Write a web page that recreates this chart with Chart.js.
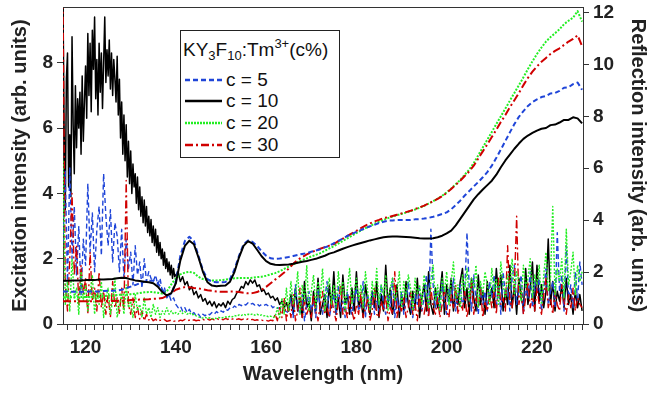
<!DOCTYPE html>
<html><head><meta charset="utf-8">
<script src="https://cdn.jsdelivr.net/npm/chart.js@4.4.1/dist/chart.umd.min.js"></script>
<style>
html,body{margin:0;padding:0;background:#fff;}
#wrap{position:relative;width:648px;height:393px;overflow:hidden;}
#c{position:absolute;left:0;top:0;}
#legend{position:absolute;left:180px;top:30px;width:160px;height:128px;box-sizing:border-box;border:1px solid #222;background:#fff;font-family:"Liberation Sans",Arial,sans-serif;color:#111;}
.lt{position:absolute;left:2px;top:8px;font-size:19px;line-height:22px;white-space:nowrap;}
.lt sub,.lt sup{font-size:13px;line-height:0;}
.lt sub{vertical-align:-4px;}
.lt sup{vertical-align:8px;}
.le{position:absolute;left:0;width:158px;height:22px;font-size:19px;line-height:22px;white-space:nowrap;}
.le svg{position:absolute;left:4px;top:8px;}
.le span{position:absolute;left:45px;top:0;}
</style>
</head><body>
<div id="wrap">
<canvas id="c" width="648" height="393"></canvas>
<div id="legend">
  <div class="lt">KY<sub>3</sub>F<sub>10</sub>:Tm<sup>3+</sup>(c%)</div>
  <div class="le" style="top:38px"><svg width="37" height="6"><line x1="0" y1="3" x2="37" y2="3" stroke="#1f45d8" stroke-width="2.5" stroke-dasharray="5,3"/></svg><span>c = 5</span></div>
  <div class="le" style="top:59px"><svg width="37" height="6"><line x1="0" y1="3" x2="37" y2="3" stroke="#000" stroke-width="2.5"/></svg><span>c = 10</span></div>
  <div class="le" style="top:81px"><svg width="37" height="6"><line x1="0" y1="3" x2="37" y2="3" stroke="#22ee22" stroke-width="2.5" stroke-dasharray="2,1"/></svg><span>c = 20</span></div>
  <div class="le" style="top:103px"><svg width="37" height="6"><line x1="0" y1="3" x2="37" y2="3" stroke="#d00000" stroke-width="2.5" stroke-dasharray="8,3,2,3"/></svg><span>c = 30</span></div>
</div>
</div>
<script>
// ---- sampling grids (nm) ----
const excStart = 115, excStep = 0.5;            // excitation spectra, 115..230 nm
const c10FineStart = 115, c10FineStep = 0.25;   // c = 10 excitation, dense part 115..139.75 nm
const c10Start = 140, c10Step = 0.5;            // c = 10 excitation, 140..230 nm
const refStart = 115, refStep = 1;              // reflection spectra, 115..230 nm

// ---- axis ranges / ticks ----
const xMin = 115, xMax = 230.2, xStep = 2;
const yLeftMax = 9.71, yRightMax = 12.21, yStep = 2;

// ---- excitation intensity (left axis, arb. units) ----
const excC5 = [
  2.5, 4.7, 1.2, 4.8, 2.0, 3.6, 1.5, 3.0, 0.9, 2.6,
  1.8, 4.3, 2.2, 3.4, 1.6, 2.9, 3.6, 2.1, 4.6, 3.3,
  2.4, 3.5, 1.9, 3.1, 2.7, 1.6, 2.9, 1.4, 2.6, 1.7,
  2.2, 1.2, 2.4, 1.5, 1.9, 1.1, 2.0, 1.3, 1.6, 1.4,
  1.3, 1.5, 1.2, 1.4, 1.0, 1.1, 0.8, 0.9, 0.7, 0.8,
  0.6, 0.5, 0.55, 0.4, 0.5, 0.35, 0.45, 0.3, 0.35, 0.25,
  0.3, 0.2, 0.3, 0.25, 0.32, 0.28, 0.35, 0.3, 0.38, 0.33,
  0.4, 0.36, 0.45, 0.42, 0.5, 0.48, 0.55, 0.5, 0.6, 0.56,
  0.62, 0.58, 0.65, 0.6, 0.63, 0.58, 0.62, 0.55, 0.6, 0.57,
  0.6, 0.55, 0.58, 0.5, 0.55, 0.48, 0.5, 0.45, 0.42, 0.38,
  0.35, 0.8, 0.2, 1.2, 0.5, 0.3, 0.9, 0.1, 0.6, 1.0,
  0.4, 0.7, 0.2, 1.1, 0.5, 0.3, 0.8, 1.3, 0.2, 0.6,
  0.9, 0.3, 1.2, 0.4, 0.7, 0.2, 1.0, 0.5, 0.3, 0.8,
  1.1, 0.4, 0.6, 1.3, 0.2, 0.9, 0.5, 1.0, 0.3, 0.7,
  0.4, 1.2, 0.6, 0.3, 0.9, 0.5, 1.4, 0.2, 0.8, 0.4,
  1.0, 0.3, 0.7, 1.3, 0.5, 0.2, 0.9, 0.6, 1.1, 0.4,
  0.8, 1.5, 0.3, 2.9, 1.2, 0.5, 1.0, 0.4, 1.3, 0.7,
  0.3, 1.1, 0.6, 1.4, 0.4, 0.9, 1.2, 0.5, 1.0, 2.8,
  1.1, 0.4, 1.5, 0.7, 0.3, 1.2, 0.6, 1.0, 0.4, 1.3,
  0.8, 1.5, 0.5, 1.2, 0.3, 1.6, 0.9, 1.1, 0.4, 1.4,
  1.8, 0.6, 1.0, 1.5, 0.3, 1.2, 0.8, 1.6, 0.5, 1.3,
  0.9, 1.4, 0.4, 1.1, 1.7, 0.6, 1.0, 1.3, 0.5, 2.8,
  1.0, 1.5, 0.4, 2.4, 0.8, 1.2, 0.5, 1.6, 0.7, 1.9,
  1.2
];
const excC10Fine = [
  9.8, 6.0, 3.5, 7.5,   8.3, 4.2, 5.8, 3.9,   8.8, 6.1, 4.6, 7.3,
  5.4, 6.9, 6.0, 7.1,   5.2, 7.6, 5.6, 6.8,   7.9, 6.3, 8.9, 7.0,
  8.6, 6.5, 9.0, 7.8,   9.4, 6.9, 8.1, 6.4,   8.6, 7.1, 8.3, 6.6,
  8.0, 9.4, 7.4, 8.4,   7.6, 8.7, 7.2, 8.3,   7.0, 8.1, 7.5, 6.8,
  8.2, 6.4, 7.5, 5.7,   6.8, 5.2, 6.4, 5.0,   6.1, 4.5, 5.6, 4.3,
  5.3, 4.0, 4.9, 4.2,   4.6, 3.7, 4.5, 3.5,   4.2, 3.3, 3.9, 3.1,
  3.8, 3.0, 3.6, 2.8,   3.3, 2.7, 3.2, 2.5,   3.0, 2.4, 2.9, 2.2,
  2.7, 2.1, 2.5, 2.0,   2.3, 1.8, 2.2, 1.7,   2.0, 1.6, 1.9, 1.5,
  1.8, 1.4, 1.7, 1.45
];
const excC10 = [
  1.5, 1.6, 1.3, 1.45, 1.2, 1.3, 1.05, 1.15, 0.9, 1.0,
  0.8, 0.9, 0.7, 0.78, 0.6, 0.7, 0.55, 0.68, 0.5, 0.62,
  0.55, 0.65, 0.5, 0.7, 0.6, 0.75, 0.8, 0.95, 1.0, 1.15,
  1.1, 1.3, 1.2, 1.35, 1.25, 1.35, 1.15, 1.2, 1.0, 1.05,
  0.9, 0.95, 0.8, 0.85, 0.72, 0.8, 0.6, 0.7, 0.5, 0.65,
  0.4, 0.9, 0.3, 1.1, 0.4, 0.8, 0.2, 1.3, 0.5, 0.7,
  0.1, 1.0, 0.4, 1.4, 0.3, 0.6, 0.9, 0.2, 1.2, 0.5,
  1.6, 0.3, 0.8, 0.2, 1.5, 0.6, 0.9, 0.3, 1.1, 0.4,
  1.6, 0.5, 0.8, 0.2, 1.2, 0.7, 0.3, 1.0, 0.5, 1.3,
  0.2, 0.9, 0.4, 1.8, 0.6, 1.1, 0.3, 0.7, 1.2, 0.2,
  0.9, 0.4, 1.3, 0.6, 0.3, 1.0, 0.5, 1.4, 0.2, 0.8,
  1.2, 0.4, 1.6, 0.6, 0.3, 1.1, 0.5, 0.9, 1.6, 0.3,
  1.2, 0.7, 1.4, 0.4, 1.0, 0.6, 1.3, 1.7, 0.5, 1.1,
  0.3, 1.4, 0.8, 0.4, 1.5, 0.6, 1.0, 0.3, 1.3, 0.7,
  1.1, 0.5, 1.7, 0.9, 1.5, 0.4, 1.0, 0.6, 1.8, 0.5,
  1.2, 0.3, 1.4, 0.8, 0.5, 1.7, 0.6, 1.1, 1.9, 0.4,
  1.8, 0.7, 1.2, 0.5, 1.0, 2.6, 0.6, 1.3, 0.4, 1.0,
  0.7, 1.2, 0.5, 1.4, 0.6, 0.9, 0.3, 1.0, 0.5, 0.9,
  0.4
];
const excC20 = [
  5.0, 0.6, 1.3, 0.4, 2.0, 0.8, 1.1, 0.3, 1.6, 0.7,
  1.2, 0.4, 0.9, 1.5, 0.3, 1.0, 0.6, 1.3, 0.2, 0.8,
  1.1, 0.3, 0.7, 1.4, 0.2, 0.6, 0.9, 0.3, 1.2, 0.5,
  0.7, 0.2, 0.9, 0.4, 0.6, 0.2, 0.8, 0.3, 0.5, 0.2,
  0.6, 0.3, 0.5, 0.2, 0.4, 0.3, 0.5, 0.3, 0.4, 0.3,
  0.35, 0.3, 0.4, 0.32, 0.38, 0.3, 0.35, 0.28, 0.3, 0.25,
  0.22, 0.2, 0.18, 0.2, 0.17, 0.19, 0.16, 0.18, 0.17, 0.2,
  0.18, 0.2, 0.22, 0.2, 0.24, 0.22, 0.26, 0.24, 0.28, 0.26,
  0.3, 0.27, 0.3, 0.28, 0.31, 0.27, 0.3, 0.26, 0.28, 0.25,
  0.26, 0.22, 0.24, 0.2, 0.22, 0.5, 0.2, 0.8, 0.3, 1.1,
  0.4, 1.3, 0.6, 0.9, 1.6, 0.3, 1.2, 0.7, 1.8, 0.4,
  1.0, 1.5, 0.5, 1.3, 0.8, 1.7, 0.4, 1.1, 1.4, 0.6,
  1.2, 0.5, 1.6, 0.9, 1.3, 0.4, 1.1, 1.7, 0.6, 1.0,
  1.4, 0.7, 1.2, 0.5, 1.6, 1.0, 0.4, 1.3, 0.8, 1.7,
  0.6, 1.2, 0.9, 1.5, 0.4, 1.1, 1.4, 0.7, 1.0, 1.6,
  0.5, 1.3, 0.8, 1.5, 1.1, 0.4, 1.4, 0.9, 1.2, 0.6,
  1.5, 1.0, 0.5, 1.3, 1.8, 0.7, 1.2, 0.4, 1.4, 1.0,
  1.6, 0.6, 1.3, 1.9, 0.8, 1.2, 0.5, 1.5, 1.0, 1.7,
  0.7, 1.4, 1.1, 1.8, 0.5, 1.3, 0.9, 1.6, 1.2, 0.6,
  1.7, 1.0, 1.4, 0.6, 1.9, 1.2, 0.8, 1.5, 1.1, 2.0,
  0.9, 1.6, 1.3, 0.7, 1.8, 1.1, 1.4, 2.0, 0.8, 1.5,
  1.2, 1.8, 0.6, 1.5, 2.2, 1.0, 1.4, 3.6, 0.9, 1.7,
  1.3, 2.0, 0.8, 2.9, 1.2, 1.6, 2.2, 0.9, 1.8, 1.3,
  1.6
];
const excC30 = [
  9.9, 1.2, 0.4, 2.0, 4.0, 1.5, 2.4, 0.6, 1.8, 0.9,
  1.4, 0.3, 2.2, 0.7, 1.1, 0.4, 1.6, 0.5, 1.0, 0.3,
  0.9, 0.2, 1.3, 0.5, 0.8, 0.3, 1.1, 0.4, 4.4, 0.6,
  0.3, 0.8, 0.2, 0.5, 0.15, 0.4, 0.1, 0.3, 0.12, 0.2,
  0.1, 0.15, 0.08, 0.12, 0.1, 0.14, 0.08, 0.1, 0.12, 0.08,
  0.1, 0.08, 0.12, 0.1, 0.14, 0.1, 0.12, 0.09, 0.13, 0.1,
  0.12, 0.1, 0.14, 0.11, 0.15, 0.12, 0.16, 0.13, 0.17, 0.14,
  0.16, 0.13, 0.17, 0.14, 0.18, 0.15, 0.17, 0.14, 0.16, 0.13,
  0.15, 0.12, 0.16, 0.13, 0.14, 0.11, 0.13, 0.1, 0.12, 0.1,
  0.11, 0.09, 0.12, 0.1, 0.3, 0.1, 0.5, 0.2, 0.8, 0.1,
  0.6, 0.2, 0.9, 0.1, 0.4, 1.1, 0.2, 0.7, 0.3, 0.5,
  0.2, 0.9, 0.4, 0.1, 0.6, 1.0, 0.3, 0.5, 0.2, 0.8,
  0.4, 0.1, 0.7, 1.2, 0.3, 0.5, 0.2, 0.9, 0.4, 0.1,
  0.6, 0.3, 1.0, 0.2, 0.5, 0.8, 0.1, 0.4, 1.1, 0.3,
  0.2, 0.7, 0.4, 0.9, 0.1, 0.5, 0.3, 1.6, 0.2, 0.6,
  0.4, 0.8, 0.2, 0.5, 1.0, 0.3, 0.6, 0.1, 0.9, 0.4,
  0.3, 0.7, 0.2, 1.1, 0.5, 0.3, 0.8, 0.2, 0.6, 1.0,
  0.4, 0.2, 0.9, 0.5, 1.2, 0.3, 0.7, 0.4, 1.0, 0.2,
  0.6, 1.3, 0.3, 0.8, 0.5, 1.1, 0.2, 0.7, 0.4, 0.9,
  0.5, 1.0, 0.3, 1.4, 0.6, 0.8, 0.4, 2.4, 0.7, 0.5,
  1.2, 3.3, 0.6, 1.0, 0.3, 0.8, 1.3, 0.5, 0.9, 0.4,
  1.1, 0.6, 0.3, 0.9, 1.4, 0.5, 0.8, 0.3, 1.0, 0.6,
  0.4, 1.2, 0.7, 0.3, 0.9, 0.5, 1.1, 0.4, 0.8, 0.6,
  0.5
];

// ---- reflection intensity (right axis, arb. units) ----
const refC5 = [
  1.25, 1.25, 1.24, 1.24, 1.24, 1.25, 1.25, 1.25, 1.25, 1.27,
  1.28, 1.28, 1.29, 1.32, 1.38, 1.44, 1.50, 1.57, 1.63, 1.67,
  1.67, 1.57, 1.32, 1.10, 1.15, 1.63, 2.63, 3.20, 3.36, 3.20,
  2.63, 2.07, 1.73, 1.63, 1.61, 1.61, 1.62, 1.73, 2.11, 2.63,
  3.07, 3.22, 3.16, 3.01, 2.80, 2.63, 2.53, 2.51, 2.52, 2.55,
  2.58, 2.62, 2.66, 2.70, 2.73, 2.78, 2.83, 2.88, 2.95, 3.01,
  3.11, 3.20, 3.29, 3.39, 3.47, 3.55, 3.62, 3.70, 3.76, 3.82,
  3.89, 3.94, 3.98, 3.99, 4.00, 4.01, 4.01, 4.01, 4.03, 4.04,
  4.06, 4.09, 4.13, 4.18, 4.24, 4.30, 4.42, 4.58, 4.75, 4.95,
  5.12, 5.30, 5.47, 5.65, 5.85, 6.10, 6.40, 6.72, 7.05, 7.38,
  7.70, 7.98, 8.20, 8.40, 8.55, 8.65, 8.74, 8.78, 8.88, 8.90,
  8.98, 9.10, 9.12, 9.24, 9.30, 9.02
];
const refC10 = [
  1.67, 1.67, 1.68, 1.68, 1.68, 1.69, 1.69, 1.69, 1.71, 1.71,
  1.72, 1.73, 1.76, 1.78, 1.77, 1.72, 1.68, 1.66, 1.63, 1.61,
  1.57, 1.44, 1.23, 1.10, 1.19, 1.57, 2.45, 3.01, 3.21, 3.07,
  2.57, 2.01, 1.61, 1.48, 1.45, 1.47, 1.48, 1.63, 2.01, 2.57,
  3.01, 3.19, 3.10, 2.86, 2.61, 2.42, 2.32, 2.28, 2.27, 2.28,
  2.29, 2.32, 2.36, 2.40, 2.43, 2.47, 2.51, 2.57, 2.63, 2.71,
  2.76, 2.83, 2.90, 2.96, 3.02, 3.07, 3.12, 3.17, 3.22, 3.26,
  3.30, 3.34, 3.36, 3.37, 3.37, 3.36, 3.35, 3.34, 3.32, 3.30,
  3.29, 3.29, 3.30, 3.34, 3.40, 3.49, 3.60, 3.80, 4.05, 4.30,
  4.55, 4.80, 5.00, 5.18, 5.35, 5.52, 5.75, 6.04, 6.30, 6.52,
  6.75, 6.95, 7.13, 7.26, 7.36, 7.45, 7.52, 7.55, 7.66, 7.68,
  7.76, 7.86, 7.86, 7.96, 7.92, 7.73
];
const refC20 = [
  1.03, 1.03, 1.03, 1.03, 1.04, 1.04, 1.04, 1.05, 1.07, 1.08,
  1.09, 1.10, 1.12, 1.13, 1.14, 1.15, 1.17, 1.19, 1.22, 1.23,
  1.23, 1.20, 1.17, 1.25, 1.53, 1.76, 1.91, 1.98, 2.01, 1.97,
  1.82, 1.73, 1.69, 1.68, 1.68, 1.69, 1.71, 1.73, 1.76, 1.77,
  1.77, 1.77, 1.78, 1.81, 1.82, 1.86, 1.91, 1.96, 2.03, 2.12,
  2.21, 2.29, 2.38, 2.46, 2.53, 2.60, 2.66, 2.73, 2.82, 2.91,
  3.00, 3.10, 3.20, 3.30, 3.40, 3.50, 3.60, 3.69, 3.77, 3.86,
  3.94, 4.01, 4.08, 4.14, 4.19, 4.24, 4.29, 4.35, 4.41, 4.48,
  4.55, 4.64, 4.73, 4.83, 4.94, 5.07, 5.22, 5.38, 5.55, 5.75,
  5.95, 6.20, 6.50, 6.80, 7.10, 7.40, 7.70, 8.00, 8.30, 8.60,
  8.90, 9.20, 9.50, 9.82, 10.12, 10.40, 10.65, 10.88, 11.05, 11.20,
  11.35, 11.55, 11.68, 11.80, 12.05, 11.65
];
const refC30 = [
  0.88, 0.88, 0.88, 0.88, 0.88, 0.88, 0.88, 0.88, 0.88, 0.89,
  0.89, 0.89, 0.90, 0.90, 0.90, 0.92, 0.93, 0.94, 0.94, 0.95,
  0.97, 0.98, 1.00, 1.08, 1.19, 1.32, 1.38, 1.42, 1.42, 1.39,
  1.37, 1.34, 1.30, 1.28, 1.25, 1.24, 1.24, 1.25, 1.25, 1.23,
  1.20, 1.18, 1.19, 1.23, 1.32, 1.43, 1.57, 1.71, 1.84, 1.98,
  2.13, 2.32, 2.47, 2.58, 2.68, 2.76, 2.83, 2.90, 2.96, 3.02,
  3.08, 3.19, 3.29, 3.39, 3.49, 3.59, 3.69, 3.79, 3.87, 3.95,
  4.01, 4.08, 4.11, 4.16, 4.21, 4.26, 4.31, 4.36, 4.43, 4.49,
  4.56, 4.64, 4.73, 4.82, 4.92, 5.05, 5.20, 5.36, 5.52, 5.70,
  5.88, 6.10, 6.38, 6.65, 6.92, 7.20, 7.48, 7.78, 8.05, 8.35,
  8.62, 8.90, 9.20, 9.48, 9.72, 9.92, 10.10, 10.25, 10.40, 10.52,
  10.62, 10.75, 10.88, 10.98, 11.12, 10.70
];

const COL5 = '#1f45d8', COL10 = '#000000', COL20 = '#22ee22', COL30 = '#d00000';
const DASH5 = [5, 3], DASH20 = [2, 1.5], DASH30 = [8, 3, 2, 3];

function pts(vals, start, step) { return vals.map((v, i) => ({ x: start + i * step, y: v })); }
function ds(label, data, axis, color, dash, width, order) {
  return { label, data, yAxisID: axis, borderColor: color,
    borderDash: dash, borderWidth: width, order, pointRadius: 0, tension: 0,
    borderJoinStyle: 'round', fill: false };
}

const c10ExcData = pts(excC10Fine, c10FineStart, c10FineStep).concat(pts(excC10, c10Start, c10Step));

const datasets = [
  ds('c = 10 excitation', c10ExcData, 'y', COL10, [], 1.5, 8),
  ds('c = 5 excitation', pts(excC5, excStart, excStep), 'y', COL5, DASH5, 1.4, 7),
  ds('c = 30 excitation', pts(excC30, excStart, excStep), 'y', COL30, DASH30, 1.4, 6),
  ds('c = 20 excitation', pts(excC20, excStart, excStep), 'y', COL20, DASH20, 1.4, 5),
  ds('c = 20 reflection', pts(refC20, refStart, refStep), 'y2', COL20, DASH20, 2, 4),
  ds('c = 30 reflection', pts(refC30, refStart, refStep), 'y2', COL30, DASH30, 2, 3),
  ds('c = 5 reflection', pts(refC5, refStart, refStep), 'y2', COL5, DASH5, 2, 2),
  ds('c = 10 reflection', pts(refC10, refStart, refStep), 'y2', COL10, [], 2, 1)
];

const FONT = '"Liberation Sans", Arial, Helvetica, sans-serif';
const AX = '#333';
const tickFont = { family: FONT, size: 19, weight: 'bold', lineHeight: 1.2 };
const titleFont = { family: FONT, size: 20, weight: 'bold', lineHeight: 1 };

function zeroPad(s) { s.paddingTop = 0; s.paddingBottom = 0; s.paddingLeft = 0; s.paddingRight = 0; }

const frame = {
  id: 'frame',
  afterDatasetsDraw(chart) {
    const { ctx, chartArea: a } = chart;
    ctx.save();
    ctx.strokeStyle = AX; ctx.lineWidth = 1;
    ctx.beginPath(); ctx.moveTo(a.left, a.top + 0.5); ctx.lineTo(a.right, a.top + 0.5); ctx.stroke();
    ctx.restore();
  }
};

new Chart(document.getElementById('c'), {
  type: 'line',
  data: { datasets },
  plugins: [frame],
  options: {
    responsive: false, animation: false, devicePixelRatio: 1,
    layout: { padding: { top: 7, left: 0, right: 0, bottom: 0 } },
    plugins: { legend: { display: false }, tooltip: { enabled: false } },
    scales: {
      x: {
        type: 'linear', min: xMin, max: xMax,
        afterFit(s) { s.height = 69; zeroPad(s); },
        border: { display: true, color: AX, width: 1 },
        grid: { display: true, drawOnChartArea: false, drawTicks: true, tickLength: 6, color: AX },
        ticks: { stepSize: xStep, includeBounds: false, autoSkip: false, maxRotation: 0, padding: 6,
          color: '#222', font: tickFont,
          callback: v => (Math.abs(v % 20) < 1e-6 ? String(v) : '') },
        title: { display: true, text: 'Wavelength (nm)', color: '#222', font: titleFont, padding: { top: 0, bottom: 9 } }
      },
      y: {
        position: 'left', min: 0, max: yLeftMax,
        afterFit(s) { s.width = 63; zeroPad(s); },
        border: { display: true, color: AX, width: 1 },
        grid: { display: true, drawOnChartArea: false, drawTicks: true, tickLength: 6, color: AX },
        ticks: { stepSize: yStep, includeBounds: false, padding: 4, color: '#222', font: tickFont },
        title: { display: true, text: 'Excitation intensity (arb. units)', color: '#222', font: titleFont, padding: { top: 10, bottom: 0 } }
      },
      y2: {
        position: 'right', min: 0, max: yRightMax,
        afterFit(s) { s.width = 65; zeroPad(s); },
        border: { display: true, color: AX, width: 1 },
        grid: { display: true, drawOnChartArea: false, drawTicks: true, tickLength: 6, color: AX },
        ticks: { stepSize: yStep, includeBounds: false, padding: 4, color: '#222', font: tickFont },
        title: { display: true, text: 'Reflection intensity (arb. units)', color: '#222', font: titleFont, padding: { top: 0, bottom: 0 } }
      }
    }
  }
});
</script>
</body></html>
